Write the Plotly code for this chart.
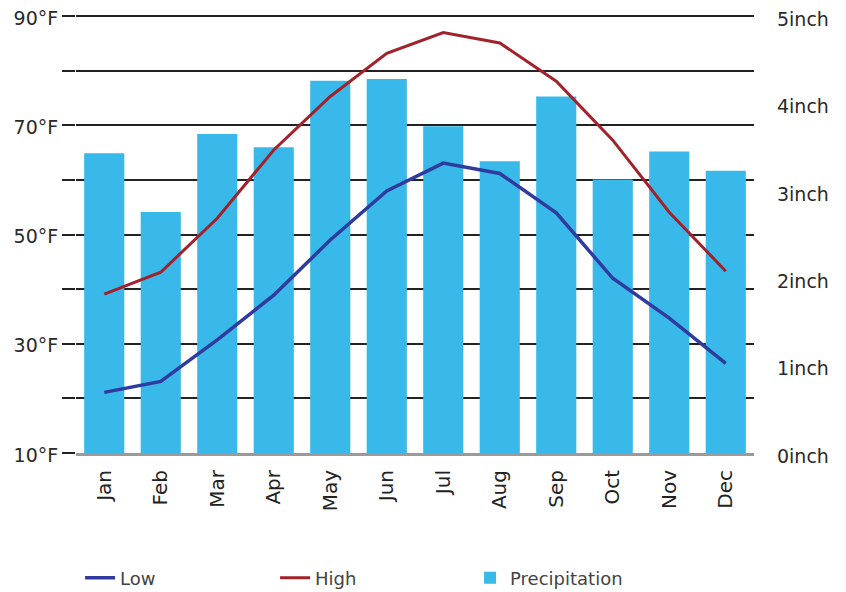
import plotly.graph_objects as go

months = ["Jan", "Feb", "Mar", "Apr", "May", "Jun", "Jul", "Aug", "Sep", "Oct", "Nov", "Dec"]
low_f = [21.1, 23.1, 30.7, 38.9, 49.0, 58.0, 63.1, 61.2, 54.0, 42.0, 34.7, 26.4]
high_f = [39.1, 43.1, 53.0, 65.5, 75.3, 83.2, 87.0, 85.1, 78.1, 67.3, 54.1, 43.3]
precip_in = [3.43, 2.76, 3.65, 3.50, 4.26, 4.28, 3.74, 3.34, 4.08, 3.13, 3.45, 3.23]

temp_ticks = [10, 20, 30, 40, 50, 60, 70, 80, 90]
temp_labels = ["10°F", "", "30°F", "", "50°F", "", "70°F", "", "90°F"]
precip_ticks = [0, 1, 2, 3, 4, 5]
precip_labels = ["0inch", "1inch", "2inch", "3inch", "4inch", "5inch"]

FONT = "DejaVu Sans"
TXT = "#2a2a2a"

T_MIN, T_MAX = 10, 90.4
P_MAX = 5 * (T_MAX - T_MIN) / 80.0

fig = go.Figure()
fig.add_trace(go.Scatter(x=months, y=low_f, name="Low", mode="lines",
                         line=dict(color="#2f3b9e", width=3.5), yaxis="y2"))
fig.add_trace(go.Scatter(x=months, y=high_f, name="High", mode="lines",
                         line=dict(color="#a3212a", width=3), yaxis="y2"))
fig.add_trace(go.Bar(x=months, y=precip_in, name="Precipitation",
                     marker=dict(color="#38b9e9", line=dict(width=0)), yaxis="y"))

fig.update_layout(
    width=846, height=592,
    margin=dict(l=76, r=92, t=14, b=139, autoexpand=False),
    paper_bgcolor="white", plot_bgcolor="white",
    font=dict(family=FONT, size=18, color=TXT),
    bargap=0.29,
    showlegend=True,
    hovermode=False,
    legend=dict(orientation="h", x=0.006, xanchor="left", y=-0.285, yanchor="middle",
                entrywidth=150, entrywidthmode="pixels",
                font=dict(family=FONT, size=18, color="#444444"),
                bgcolor="rgba(0,0,0,0)"),
    xaxis=dict(type="category", range=[-0.5, 11.5], showline=True, linecolor="#9a9a9a",
               linewidth=3, tickangle=-90, ticks="", showgrid=False, automargin=False,
               tickfont=dict(family=FONT, size=20, color="#222222"),
               ticklabelstandoff=6),
    yaxis=dict(side="right", range=[0, P_MAX], tickvals=precip_ticks, ticktext=precip_labels,
               showgrid=False, zeroline=False, showline=False, ticks="", automargin=False,
               ticklabeloverflow="allow", ticklabelshift=3,
               ticklabelstandoff=22, tickfont=dict(family=FONT, size=19, color=TXT)),
    yaxis2=dict(overlaying="y", side="left", range=[T_MIN, T_MAX], tickvals=temp_ticks,
                ticktext=temp_labels, showgrid=True, gridcolor="#222222", gridwidth=2,
                zeroline=False, showline=False, ticks="outside", ticklen=13, automargin=False,
                ticklabeloverflow="allow", ticklabelshift=2,
                tickcolor="#222222", tickwidth=2, ticklabelstandoff=0,
                tickfont=dict(family=FONT, size=19, color=TXT)),
)

fig.write_html("out.html", config={"displayModeBar": False},
               post_script="document.body.style.margin='0';")
